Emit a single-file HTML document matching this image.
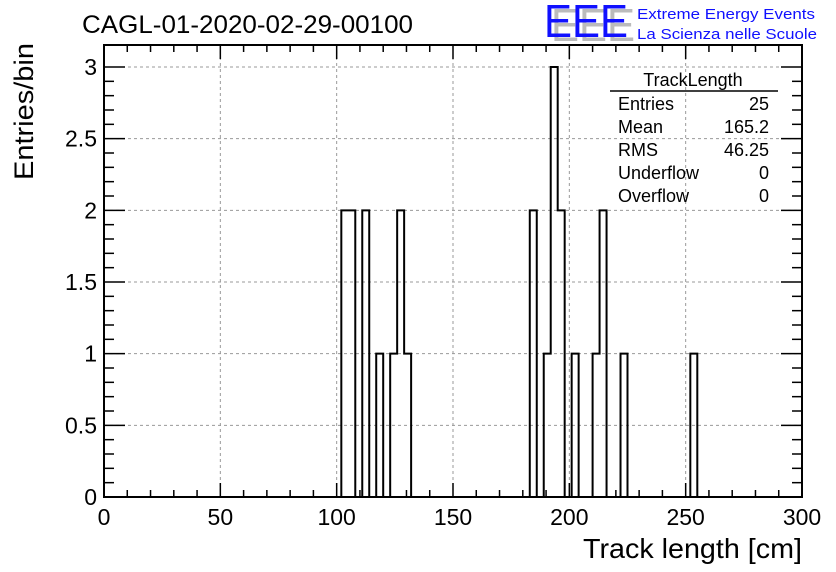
<!DOCTYPE html>
<html><head><meta charset="utf-8"><style>
html,body{margin:0;padding:0;background:#fff;}
svg{display:block;font-family:"Liberation Sans",sans-serif;}
</style></head><body>
<svg id="chart" width="836" height="572" xmlns="http://www.w3.org/2000/svg">
<rect width="836" height="572" fill="#fff"/>
<g id="grid"></g>
<g id="hist"></g>
<g id="axes"></g>
<text x="82" y="33" font-size="25" textLength="331" lengthAdjust="spacingAndGlyphs">CAGL-01-2020-02-29-00100</text>
<g>
<text x="551" y="41" font-size="46" fill="#bbb" textLength="84" lengthAdjust="spacingAndGlyphs">EEE</text>
<text x="544" y="37" font-size="46" fill="#1010ff" textLength="84" lengthAdjust="spacingAndGlyphs">EEE</text>
<text x="637" y="19" font-size="15" fill="#1010ff" textLength="178" lengthAdjust="spacingAndGlyphs">Extreme Energy Events</text>
<text x="637" y="39" font-size="15" fill="#1010ff" textLength="180" lengthAdjust="spacingAndGlyphs">La Scienza nelle Scuole</text>
</g>
<g font-size="18">
<text x="693" y="86" text-anchor="middle">TrackLength</text>
<line x1="610" y1="91" x2="778" y2="91" stroke="#000" stroke-width="1.5"/>
<text x="618" y="110">Entries</text><text x="769" y="110" text-anchor="end">25</text>
<text x="618" y="133">Mean</text><text x="769" y="133" text-anchor="end">165.2</text>
<text x="618" y="156">RMS</text><text x="769" y="156" text-anchor="end">46.25</text>
<text x="618" y="179">Underflow</text><text x="769" y="179" text-anchor="end">0</text>
<text x="618" y="202">Overflow</text><text x="769" y="202" text-anchor="end">0</text>
</g>
<text x="802" y="558" font-size="28" text-anchor="end" textLength="219" lengthAdjust="spacingAndGlyphs">Track length [cm]</text>
<text transform="translate(33,43) rotate(-90)" font-size="27" text-anchor="end" textLength="137" lengthAdjust="spacingAndGlyphs">Entries/bin</text>
</svg>
<script>
const binEdges = [102,105,111,117,123,126,129,183,189,192,195,201,210,213,222,252];
const binCounts = [2,2,2,1,1,2,1,2,1,3,2,1,1,2,1,1];
const binWidth = 3;
const xTicks = [0,50,100,150,200,250,300];
const yTicks = [0,0.5,1,1.5,2,2.5,3];
const yTickLabels = ["0","0.5","1","1.5","2","2.5","3"];

const X0=104,X1=802,Y0=497,YT=45;
const xs=v=>X0+(v-0)/300*(X1-X0);
const ys=v=>Y0-v*(Y0-67)/3;
const NS="http://www.w3.org/2000/svg";
function mk(tag,attrs,parent){const e=document.createElementNS(NS,tag);for(const k in attrs)e.setAttribute(k,attrs[k]);parent.appendChild(e);return e;}
const grid=document.getElementById('grid'),axes=document.getElementById('axes'),hist=document.getElementById('hist');
xTicks.forEach(t=>{if(t>0&&t<300){const l=mk('line',{x1:xs(t),x2:xs(t),y1:YT,y2:Y0,stroke:'#999','stroke-dasharray':'3,3'},grid);}});
yTicks.forEach(t=>{if(t>0){const l=mk('line',{x1:X0,x2:X1,y1:ys(t),y2:ys(t),stroke:'#999','stroke-dasharray':'3,3'},grid);}});
const bins=[];binEdges.forEach((e,i)=>bins.push([e,binCounts[i]]));
let d='M'+xs(0)+','+ys(0);let cur=0;let prevEnd=0;
bins.forEach(([e,c])=>{
  if(e>prevEnd&&cur!==0){d+=' L'+xs(prevEnd)+','+ys(0);cur=0;}
  d+=' L'+xs(e)+','+ys(cur)+' L'+xs(e)+','+ys(c)+' L'+xs(e+binWidth)+','+ys(c);
  cur=c;prevEnd=e+binWidth;
});
d+=' L'+xs(prevEnd)+','+ys(0)+' L'+xs(300)+','+ys(0);
const p=mk('path',{d:d,fill:'none',stroke:'#000','stroke-width':2},hist);


const fr=mk('rect',{x:X0,y:YT,width:X1-X0,height:Y0-YT,fill:'none',stroke:'#000','stroke-width':2},axes);


for(let v=0;v<=300;v+=10){const maj=v%50===0;const L=maj?14:7;
  mk('line',{x1:xs(v),x2:xs(v),y1:Y0,y2:Y0-L,stroke:'#000','stroke-width':1.5},axes);
  mk('line',{x1:xs(v),x2:xs(v),y1:YT,y2:YT+L,stroke:'#000','stroke-width':1.5},axes);}
xTicks.forEach(t=>{const tx=mk('text',{x:xs(t),y:Y0+28,'font-size':23,'text-anchor':'middle'},axes);tx.textContent=String(t);
  });
for(let i=0;i<=30;i++){const v=i/10;const maj=i%5===0;const L=maj?21:10;
  mk('line',{x1:X0,x2:X0+L,y1:ys(v),y2:ys(v),stroke:'#000','stroke-width':1.5},axes);
  mk('line',{x1:X1,x2:X1-L,y1:ys(v),y2:ys(v),stroke:'#000','stroke-width':1.5},axes);}
yTicks.forEach((t,i)=>{const tx=mk('text',{x:X0-7,y:ys(t)+8,'font-size':23,'text-anchor':'end'},axes);tx.textContent=yTickLabels[i];
  });
</script>
</body></html>
